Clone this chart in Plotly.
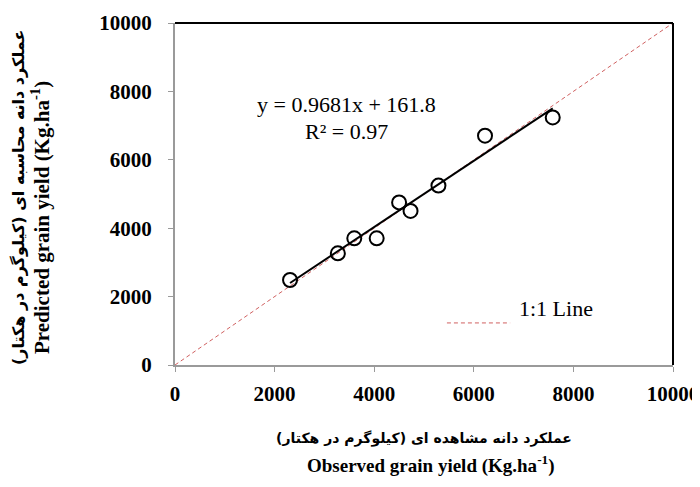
import plotly.graph_objects as go

observed = [2310, 3270, 3600, 4050, 4500, 4730, 5290, 6225, 7585]
predicted = [2485, 3265, 3705, 3705, 4755, 4505, 5245, 6705, 7240]
slope = 0.9681
intercept = 161.8
one_to_one = [0, 10000]
tick_vals = [0, 2000, 4000, 6000, 8000, 10000]
tick_text = ["0", "2000", "4000", "6000", "8000", "10000"]

x_fit = [min(observed), max(observed)]
y_fit = [slope * v + intercept for v in x_fit]

serif = "Liberation Serif"
fa_font = "DejaVu Sans"
red = "#d06060"

fig = go.Figure()
fig.add_trace(go.Scatter(x=one_to_one, y=one_to_one, mode="lines",
                         line=dict(color=red, width=1, dash="4px,3px"),
                         name="1:1 Line", showlegend=False))
fig.add_trace(go.Scatter(x=x_fit, y=y_fit, mode="lines",
                         line=dict(color="black", width=2), showlegend=False))
fig.add_trace(go.Scatter(x=observed, y=predicted, mode="markers",
                         marker=dict(symbol="circle-open", size=14, color="black",
                                     line=dict(width=2, color="black")),
                         showlegend=False))

axis_common = dict(range=[0, 10000], tickvals=tick_vals, ticktext=tick_text,
                   showgrid=False, zeroline=False, automargin=False,
                   showline=True, linecolor="#9a9a9a", linewidth=2, mirror=False,
                   ticks="outside", ticklen=5, tickcolor="#9a9a9a", tickwidth=1,
                   tickfont=dict(family=serif, size=21, color="black", weight="bold"))

fig.update_layout(
    width=700, height=487,
    margin=dict(l=167, r=35, t=15, b=130),
    plot_bgcolor="white", paper_bgcolor="white",
    showlegend=False,
    xaxis=dict(**axis_common, ticklabelstandoff=4),
    yaxis=dict(**axis_common, ticklabelstandoff=12),
    shapes=[
        dict(type="line", xref="paper", yref="paper", x0=0, x1=1, y0=1, y1=1,
             line=dict(color="black", width=2)),
        dict(type="line", xref="paper", yref="paper", x0=1, x1=1, y0=0, y1=1,
             line=dict(color="black", width=2)),
        dict(type="line", xref="paper", yref="paper", x0=0.546, x1=0.673, y0=0.123, y1=0.123,
             line=dict(color=red, width=1, dash="4px,3px")),
    ],
    annotations=[
        dict(text="1:1 Line", x=0.687, y=0.123, xref="paper", yref="paper",
             xanchor="left", showarrow=False,
             font=dict(family=serif, size=22, color="black")),
        dict(text="y = 0.9681x + 161.8", x=0.345, y=0.804, xref="paper", yref="paper",
             showarrow=False, font=dict(family=serif, size=22, color="black")),
        dict(text="R² = 0.97", x=0.345, y=0.725, xref="paper", yref="paper",
             showarrow=False, font=dict(family=serif, size=22, color="black")),
        dict(text="عملکرد دانه مشاهده ای (کیلوگرم در هکتار)", x=0.5, y=-0.245,
             xref="paper", yref="paper", showarrow=False,
             font=dict(family=fa_font, size=14, color="black", weight="bold")),
        dict(text="Observed grain yield (Kg.ha<sup>-1</sup>)", x=0.515, y=-0.332,
             xref="paper", yref="paper", showarrow=False,
             font=dict(family=serif, size=19, color="black", weight="bold")),
        dict(text="عملکرد دانه محاسبه ای (کیلوگرم در هکتار)", x=-0.337, y=0.49,
             xref="paper", yref="paper", showarrow=False, textangle=-90,
             font=dict(family=fa_font, size=16, color="black", weight="bold")),
        dict(text="Predicted grain yield (Kg.ha<sup>-1</sup>)", x=-0.3, y=0.43,
             xref="paper", yref="paper", showarrow=False, textangle=-90,
             font=dict(family=serif, size=21, color="black", weight="bold")),
    ],
)

fig.write_html("out.html")
